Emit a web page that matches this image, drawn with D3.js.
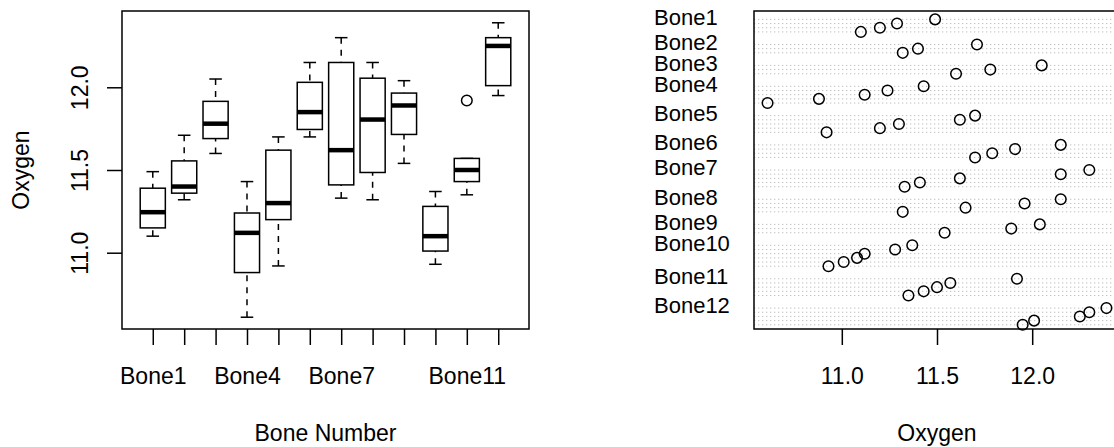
<!DOCTYPE html>
<html>
<head>
<meta charset="utf-8">
<script src="https://cdn.jsdelivr.net/npm/d3@7"></script>
<style>
  body { margin: 0; background: #fff; }
  svg { display: block; font-family: "Liberation Sans", Arial, sans-serif; }
</style>
</head>
<body>
<div id="chart"></div>
<script>
// oxygen readings per bone, ascending
const bone1 = [11.10, 11.20, 11.29, 11.49]
const bone2 = [11.32, 11.40, 11.71]
const bone3 = [11.60, 11.78, 12.05]
const bone4 = [10.61, 10.88, 11.12, 11.24, 11.43]
const bone5 = [10.92, 11.20, 11.30, 11.62, 11.70]
const bone6 = [11.70, 11.79, 11.91, 12.15]
const bone7 = [11.33, 11.41, 11.62, 12.15, 12.30]
const bone8 = [11.32, 11.65, 11.96, 12.15]
const bone9 = [11.54, 11.89, 12.04]
const bone10 = [10.93, 11.01, 11.08, 11.12, 11.28, 11.37]
const bone11 = [11.35, 11.43, 11.50, 11.57, 11.92]
const bone12 = [11.95, 12.01, 12.25, 12.30, 12.39]

const boneNames = ["Bone1", "Bone2", "Bone3", "Bone4", "Bone5", "Bone6",
                   "Bone7", "Bone8", "Bone9", "Bone10", "Bone11", "Bone12"]
const oxygenTicks = [11.0, 11.5, 12.0]

const groups = [bone1, bone2, bone3, bone4, bone5, bone6, bone7, bone8, bone9, bone10, bone11, bone12]

const width = 1114, height = 447
const fontSize = 23

const svg = d3.select('#chart').append('svg')
    .attr('width', width)
    .attr('height', height)
    .attr('font-size', fontSize)

svg.append('rect').attr('width', width).attr('height', height).attr('fill', '#fff')

// R style range: extend data range by 4% on each side
const all = groups.flat()
const [lo, hi] = d3.extent(all)
const pad = (hi - lo) * 0.04
const oxyDomain = [lo - pad, hi + pad]

const plotTop = 11, plotBottom = 329

// tukey five number summary like R fivenum
function fivenum(arr) {
    const x = arr.slice().sort(d3.ascending)
    const n = x.length
    const n4 = Math.floor((n + 3) / 2) / 2
    const d = [1, n4, (n + 1) / 2, n + 1 - n4, n]
    return d.map(k => 0.5 * (x[Math.floor(k) - 1] + x[Math.ceil(k) - 1]))
}

function boxStats(arr) {
    const f = fivenum(arr)
    const iqr = f[3] - f[1]
    const loF = f[1] - 1.5 * iqr, hiF = f[3] + 1.5 * iqr
    const inside = arr.filter(v => v >= loF && v <= hiF)
    return {
        q1: f[1], med: f[2], q3: f[3],
        wlo: d3.min(inside), whi: d3.max(inside),
        out: arr.filter(v => v < loF || v > hiF)
    }
}

/* ---------- left panel: boxplot ---------- */
const left = { x0: 122, x1: 529 }
const xL = d3.scaleLinear().domain([0.02, 12.98]).range([left.x0, left.x1])
const yL = d3.scaleLinear().domain(oxyDomain).range([plotBottom, plotTop])

const gL = svg.append('g')
const boxW = 0.8, stapleW = 0.4

groups.forEach((vals, i) => {
    const s = boxStats(vals)
    const cx = i + 1
    const g = gL.append('g')
    // whiskers, drawn from the end toward the box
    g.append('line')
        .attr('x1', xL(cx)).attr('x2', xL(cx))
        .attr('y1', yL(s.wlo)).attr('y2', yL(s.q1))
        .attr('stroke', '#000').attr('stroke-width', 1.5).attr('stroke-dasharray', '6,6')
    g.append('line')
        .attr('x1', xL(cx)).attr('x2', xL(cx))
        .attr('y1', yL(s.whi)).attr('y2', yL(s.q3))
        .attr('stroke', '#000').attr('stroke-width', 1.5).attr('stroke-dasharray', '6,6')
    // staples
    ;[s.wlo, s.whi].forEach(v => {
        g.append('line')
            .attr('x1', xL(cx - stapleW / 2)).attr('x2', xL(cx + stapleW / 2))
            .attr('y1', yL(v)).attr('y2', yL(v))
            .attr('stroke', '#000').attr('stroke-width', 1.5)
    })
    // box
    g.append('rect')
        .attr('x', xL(cx - boxW / 2))
        .attr('width', xL(cx + boxW / 2) - xL(cx - boxW / 2))
        .attr('y', yL(s.q3))
        .attr('height', yL(s.q1) - yL(s.q3))
        .attr('fill', '#fff').attr('stroke', '#000').attr('stroke-width', 1.5)
    // median
    g.append('line')
        .attr('x1', xL(cx - boxW / 2)).attr('x2', xL(cx + boxW / 2))
        .attr('y1', yL(s.med)).attr('y2', yL(s.med))
        .attr('stroke', '#000').attr('stroke-width', 4.5)
    // outliers
    g.selectAll('circle').data(s.out).join('circle')
        .attr('cx', xL(cx)).attr('cy', d => yL(d)).attr('r', 5.3)
        .attr('fill', 'none').attr('stroke', '#000').attr('stroke-width', 1.5)
})

gL.append('rect')
    .attr('x', left.x0).attr('y', plotTop)
    .attr('width', left.x1 - left.x0).attr('height', plotBottom - plotTop)
    .attr('fill', 'none').attr('stroke', '#000').attr('stroke-width', 1.5)

// y axis (labels parallel to axis)
const yAxisL = svg.append('g')
    .attr('transform', `translate(${left.x0},0)`)
    .call(d3.axisLeft(yL).tickValues(oxygenTicks).tickSize(15).tickFormat(d3.format('.1f')))
yAxisL.select('.domain').remove()
yAxisL.selectAll('.tick line').attr('stroke-width', 1.5)
yAxisL.selectAll('.tick text')
    .attr('x', null).attr('dy', null)
    .attr('transform', 'translate(-34,0) rotate(-90)')
    .attr('text-anchor', 'middle')
    .attr('font-size', fontSize).attr('font-family', null).attr('fill', '#000')

// x axis
const xAxisL = svg.append('g')
    .attr('transform', `translate(0,${plotBottom})`)
    .call(d3.axisBottom(xL).tickValues(d3.range(1, 13)).tickSize(16).tickFormat(i => boneNames[i - 1]))
xAxisL.select('.domain').remove()
xAxisL.selectAll('.tick line').attr('stroke-width', 1.5)
xAxisL.selectAll('.tick text')
    .attr('y', 55).attr('dy', null)
    .attr('font-size', fontSize).attr('font-family', null).attr('fill', '#000')

// drop labels that would crowd the previous one (like R does)
let lastRight = -Infinity
xAxisL.selectAll('.tick').each(function (d) {
    const t = d3.select(this).select('text')
    const w = t.node().getComputedTextLength()
    const l = xL(d) - w / 2
    if (l < lastRight + 25) t.remove()
    else lastRight = xL(d) + w / 2
})

svg.append('text')
    .attr('x', (left.x0 + left.x1) / 2).attr('y', 441)
    .attr('text-anchor', 'middle')
    .text('Bone Number')
svg.append('text')
    .attr('transform', `translate(29,${(plotTop + plotBottom) / 2}) rotate(-90)`)
    .attr('text-anchor', 'middle')
    .text('Oxygen')

/* ---------- right panel: grouped dot chart ---------- */
const right = { x0: 754, x1: 1120 }
const xR = d3.scaleLinear().domain(oxyDomain).range([right.x0, right.x1])
const yR = d3.scaleLinear().domain([0, 76]).range([plotBottom, plotTop])

// rows are laid bottom-up: last bone first, two empty rows between groups
const rows = []
const labelPos = []
let row = 0
for (let gi = groups.length - 1; gi >= 0; gi--) {
    groups[gi].forEach(v => { row += 1; rows.push({ bone: boneNames[gi], value: v, y: row }) })
    labelPos.push({ bone: boneNames[gi], y: row + 1 })
    row += 2
}

const gR = svg.append('g')

gR.selectAll('line.row').data(rows).join('line')
    .attr('class', 'row')
    .attr('x1', right.x0).attr('x2', right.x1)
    .attr('y1', d => yR(d.y)).attr('y2', d => yR(d.y))
    .attr('stroke', '#bebebe').attr('stroke-width', 1).attr('stroke-dasharray', '1.3,2.7')

gR.selectAll('circle').data(rows).join('circle')
    .attr('cx', d => xR(d.value)).attr('cy', d => yR(d.y)).attr('r', 5.3)
    .attr('fill', 'none').attr('stroke', '#000').attr('stroke-width', 1.5)

gR.append('path')
    .attr('d', `M${right.x1},${plotTop}H${right.x0}V${plotBottom}H${right.x1}`)
    .attr('fill', 'none').attr('stroke', '#000').attr('stroke-width', 1.5)

gR.selectAll('text.glabel').data(labelPos).join('text')
    .attr('class', 'glabel')
    .attr('x', 654)
    .attr('y', d => yR(d.y) + 9.5)
    .attr('font-size', 22)
    .text(d => d.bone)

const xAxisR = svg.append('g')
    .attr('transform', `translate(0,${plotBottom})`)
    .call(d3.axisBottom(xR).tickValues(oxygenTicks).tickSize(16).tickFormat(d3.format('.1f')))
xAxisR.select('.domain').remove()
xAxisR.selectAll('.tick line').attr('stroke-width', 1.5)
xAxisR.selectAll('.tick text')
    .attr('y', 55).attr('dy', null)
    .attr('font-size', fontSize).attr('font-family', null).attr('fill', '#000')

svg.append('text')
    .attr('x', (right.x0 + right.x1) / 2).attr('y', 441)
    .attr('text-anchor', 'middle')
    .text('Oxygen')
</script>
</body>
</html>
